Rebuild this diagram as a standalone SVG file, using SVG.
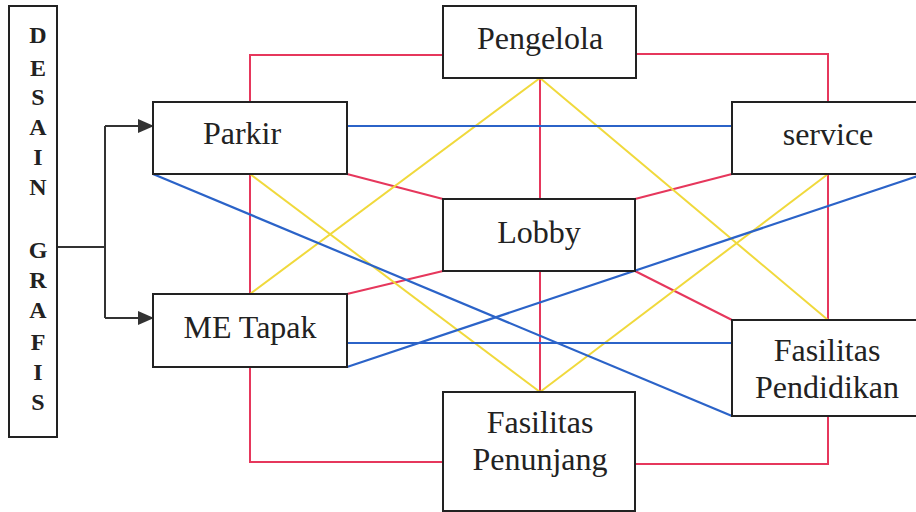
<svg xmlns="http://www.w3.org/2000/svg" width="916" height="512" viewBox="0 0 916 512">
<defs>
<style>
.box{fill:#fff;stroke:#222;stroke-width:2}
text{font-family:'Liberation Serif','DejaVu Serif',serif;fill:#222;text-anchor:middle}
.t{font-size:32px}
.v{font-size:24px;font-weight:bold}
.r{stroke:#e6375c;stroke-width:2;fill:none}
.y{stroke:#f0d93c;stroke-width:2;fill:none}
.b{stroke:#2b63c8;stroke-width:2.2;fill:none}
.k{stroke:#333;stroke-width:2;fill:none}
</style>
<marker id="ah" markerWidth="16" markerHeight="14" refX="15" refY="7" orient="auto" markerUnits="userSpaceOnUse">
<path d="M0,0 L16,7 L0,14 Z" fill="#333"/>
</marker>
</defs>
<rect width="916" height="512" fill="#fff"/>
<g id="connectors">
<path class="r" d="M443,55 H250 V102"/>
<path class="r" d="M636,54 H828 V102"/>
<path class="r" d="M540,78 V199"/>
<path class="r" d="M250,174 V294"/>
<path class="r" d="M347,174 L443,199"/>
<path class="r" d="M635,199 L732,174"/>
<path class="r" d="M635,271 L732,320"/>
<path class="r" d="M347,294 L443,271"/>
<path class="r" d="M540,271 V392"/>
<path class="r" d="M828,174 V320"/>
<path class="r" d="M250,367 V462 H443"/>
<path class="r" d="M635,464 H828 V416"/>
<path class="y" d="M540,78 L250,294"/>
<path class="y" d="M540,78 L828,320"/>
<path class="y" d="M250,174 L540,392"/>
<path class="y" d="M828,174 L540,392"/>
<path class="b" d="M347,126 H732"/>
<path class="b" d="M153,174 L732,416"/>
<path class="b" d="M347,343 H732"/>
<path class="b" d="M347,367 L924,174"/>
<path class="k" d="M57,247 H105"/>
<path class="k" d="M105,126 V318"/>
<path class="k" d="M105,126 H153" marker-end="url(#ah)"/>
<path class="k" d="M105,318 H153" marker-end="url(#ah)"/>
</g>
<g id="desain-grafis">
<rect class="box" x="9" y="6" width="48" height="431"/>
<text class="v" x="38" y="43">D</text>
<text class="v" x="38" y="76">E</text>
<text class="v" x="38" y="105">S</text>
<text class="v" x="38" y="135">A</text>
<text class="v" x="38" y="165">I</text>
<text class="v" x="38" y="195">N</text>
<text class="v" x="38" y="258">G</text>
<text class="v" x="38" y="288">R</text>
<text class="v" x="38" y="318">A</text>
<text class="v" x="38" y="350">F</text>
<text class="v" x="38" y="380">I</text>
<text class="v" x="38" y="410">S</text>
</g>
<g id="pengelola">
<rect class="box" x="443" y="6" width="193" height="72"/>
<text class="t" x="540" y="49">Pengelola</text>
</g>
<g id="parkir">
<rect class="box" x="153" y="102" width="194" height="72"/>
<text class="t" x="242" y="144">Parkir</text>
</g>
<g id="service">
<rect class="box" x="732" y="102" width="192" height="72"/>
<text class="t" x="828" y="145">service</text>
</g>
<g id="lobby">
<rect class="box" x="443" y="199" width="192" height="72"/>
<text class="t" x="539" y="243">Lobby</text>
</g>
<g id="me-tapak">
<rect class="box" x="153" y="294" width="194" height="73"/>
<text class="t" x="250" y="338">ME Tapak</text>
</g>
<g id="fasilitas-pendidikan">
<rect class="box" x="732" y="320" width="192" height="96"/>
<text class="t" x="827" y="361">Fasilitas</text>
<text class="t" x="827" y="398">Pendidikan</text>
</g>
<g id="fasilitas-penunjang">
<rect class="box" x="443" y="392" width="192" height="119"/>
<text class="t" x="540" y="433">Fasilitas</text>
<text class="t" x="540" y="470">Penunjang</text>
</g>
</svg>
